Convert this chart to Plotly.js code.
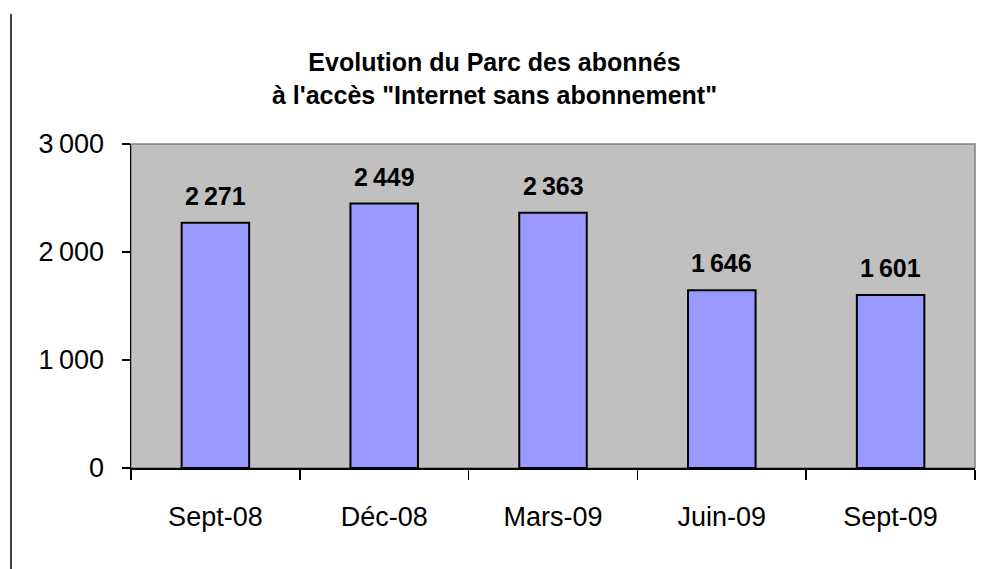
<!DOCTYPE html>
<html>
<head>
<meta charset="utf-8">
<script src="https://cdn.plot.ly/plotly-3.0.1.min.js"></script>
<style>
html,body{margin:0;padding:0;background:#fff;}
#chart{width:989px;height:569px;}
</style>
</head>
<body>
<div id="chart"></div>
<script>
const categories = ["Sept-08", "Déc-08", "Mars-09", "Juin-09", "Sept-09"];
const values = [2271, 2449, 2363, 1646, 1601];
const valueLabels = ["2\u2009271", "2\u2009449", "2\u2009363", "1\u2009646", "1\u2009601"];
const yTickVals = [0, 1000, 2000, 3000];
const yTickText = ["0", "1\u2009000", "2\u2009000", "3\u2009000"];
const titleText = "Evolution du Parc des abonnés<br>à l'accès \"Internet sans abonnement\"";

const baseFont = "Liberation Sans, Arial, sans-serif";

const trace = {
  type: "bar",
  x: categories,
  y: values,
  marker: {color: "#9999ff", line: {color: "#000000", width: 2}},
  hoverinfo: "x+y"
};

const annotations = categories.map((c, i) => ({
  x: c, y: values[i], xref: "x", yref: "y",
  text: valueLabels[i], showarrow: false,
  yanchor: "bottom", yshift: 11,
  font: {family: baseFont, size: 25, color: "#000", weight: "bold"}
}));

const layout = {
  width: 989, height: 569,
  margin: {l: 131, r: 14, t: 144, b: 101},
  paper_bgcolor: "#ffffff",
  plot_bgcolor: "#c0c0c0",
  showlegend: false,
  bargap: 0.6,
  title: {
    text: titleText,
    font: {family: baseFont, size: 25, color: "#000", weight: "bold"},
    x: 0.5, xref: "container", xanchor: "center",
    y: 1 - 71 / 569, yref: "container", yanchor: "middle"
  },
  xaxis: {
    type: "category",
    range: [-0.5, 4.5],
    showline: true, linecolor: "#000", linewidth: 1.5,
    ticks: "outside", tickson: "boundaries", ticklen: 10, tickwidth: 1.5, tickcolor: "#000",
    ticklabelstandoff: 24,
    tickfont: {family: baseFont, size: 27, color: "#000"},
    showgrid: false, zeroline: false, fixedrange: true
  },
  yaxis: {
    range: [0, 3000],
    tickvals: yTickVals, ticktext: yTickText,
    showline: true, linecolor: "#000", linewidth: 1.5,
    ticks: "outside", ticklen: 8, tickwidth: 1.5, tickcolor: "#000",
    ticklabelstandoff: 12,
    tickfont: {family: baseFont, size: 27, color: "#000"},
    showgrid: false, zeroline: false, fixedrange: true
  },
  annotations: annotations,
  shapes: [
    {type: "rect", xref: "paper", yref: "paper", x0: 0, x1: 1, y0: 0, y1: 1,
     line: {color: "#808080", width: 1.5}, layer: "below"},
    {type: "line", xref: "paper", yref: "paper",
     x0: (11 - 131) / 844, x1: (11 - 131) / 844,
     y0: (468 - 14) / 324, y1: (468 - 569) / 324,
     line: {color: "#000", width: 1.5}}
  ]
};

Plotly.newPlot("chart", [trace], layout, {displayModeBar: false, staticPlot: true});
</script>
</body>
</html>
